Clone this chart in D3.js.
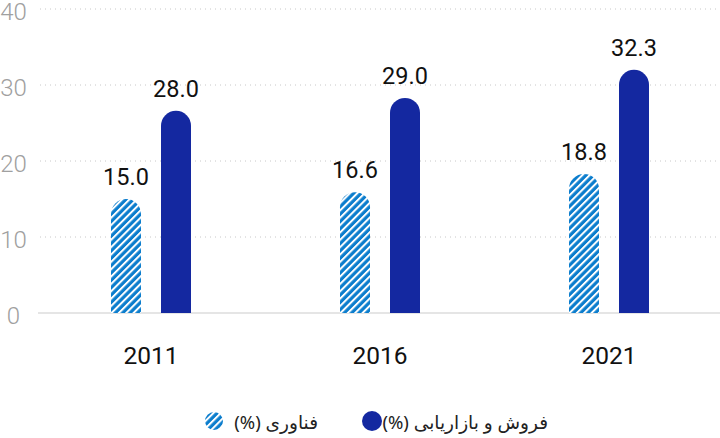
<!DOCTYPE html>
<html>
<head>
<meta charset="utf-8">
<script src="https://cdn.jsdelivr.net/npm/d3@7"></script>
<style>
  body { margin: 0; background: #fff; }
  svg { display: block; font-family: Roboto, "Noto Sans", sans-serif; }
</style>
</head>
<body>
<svg id="chart" width="720" height="438"></svg>
<script>
// data
const years = ["2011", "2016", "2021"];
const seriesNames = ["فناوری (%)", "فروش و بازاریابی (%)"];
// bar heights as drawn (the printed labels do not quite match them)
const techBars = [15.0, 15.9, 18.3];
const salesBars = [26.6, 28.3, 32.0];
const techLabels = ["15.0", "16.6", "18.8"];
const salesLabels = ["28.0", "29.0", "32.3"];
const yTicks = [0, 10, 20, 30, 40];

const techColor = "#0b7dcd";
const salesColor = "#1428a0";

const width = 720, height = 438;
const margin = { top: 9, right: 0, bottom: 125, left: 38 };
const svg = d3.select("#chart");

// stripes for the first series
const defs = svg.append("defs");
const pat = defs.append("pattern")
  .attr("id", "stripes")
  .attr("patternUnits", "userSpaceOnUse")
  .attr("width", 5.2)
  .attr("height", 5.2)
  .attr("patternTransform", "rotate(45)");
pat.append("rect").attr("width", 5.2).attr("height", 5.2).attr("fill", techColor);
pat.append("rect").attr("x", 0).attr("width", 2).attr("height", 5.2).attr("fill", "#fff");

const y = d3.scaleLinear().domain([0, 40]).range([height - margin.bottom, margin.top]);

const x0 = d3.scaleBand()
  .domain(years)
  .range([36.5, 723.5])
  .padding(0);

const x1 = d3.scalePoint()
  .domain(seriesNames)
  .range([-25, 25]);

const barW = 30;

// grid
svg.append("g")
  .selectAll("line")
  .data(yTicks.filter(d => d > 0))
  .join("line")
  .attr("x1", 40)
  .attr("x2", width)
  .attr("y1", d => y(d))
  .attr("y2", d => y(d))
  .attr("stroke", "#c8c8c8")
  .attr("stroke-width", 1)
  .attr("stroke-dasharray", "1,4");

svg.append("line")
  .attr("x1", margin.left)
  .attr("x2", width)
  .attr("y1", y(0))
  .attr("y2", y(0))
  .attr("stroke", "#dcdcdc")
  .attr("stroke-width", 1.5);

// y tick labels
svg.append("g")
  .selectAll("text")
  .data(yTicks)
  .join("text")
  .attr("x", 13.5)
  .attr("y", d => y(d) + 3)
  .attr("text-anchor", "middle")
  .attr("dominant-baseline", "central")
  .attr("fill", "#a0a0a0")
  .attr("font-weight", 300)
  .attr("font-size", 24)
  .text(d => d);

function barPath(cx, v) {
  const r = barW / 2;
  const xl = cx - r, xr = cx + r;
  const top = y(v), base = y(0);
  return `M${xl},${base}L${xl},${top + r}A${r},${r} 0 0 1 ${xr},${top + r}L${xr},${base}Z`;
}

const rows = years.map((yr, i) => ({
  year: yr,
  bars: [
    { name: seriesNames[0], v: techBars[i], label: techLabels[i], fill: "url(#stripes)" },
    { name: seriesNames[1], v: salesBars[i], label: salesLabels[i], fill: salesColor }
  ]
}));

const groups = svg.append("g")
  .selectAll("g")
  .data(rows)
  .join("g")
  .attr("transform", d => `translate(${x0(d.year) + x0.bandwidth() / 2},0)`);

groups.selectAll("path")
  .data(d => d.bars)
  .join("path")
  .attr("d", d => barPath(x1(d.name), d.v))
  .attr("fill", d => d.fill);

groups.selectAll("text.val")
  .data(d => d.bars)
  .join("text")
  .attr("class", "val")
  .attr("x", d => x1(d.name))
  .attr("y", d => y(d.v) - 14)
  .attr("text-anchor", "middle")
  .attr("font-size", 23.5)
  .attr("fill", "#111")
  .text(d => d.label);

groups.append("text")
  .attr("y", 364)
  .attr("text-anchor", "middle")
  .attr("font-size", 24.5)
  .attr("fill", "#111")
  .text(d => d.year);

// legend
const legend = [
  { name: seriesNames[0], fill: "url(#stripes)", cx: 214, r: 9, tx: 318 },
  { name: seriesNames[1], fill: salesColor, cx: 372, r: 10, tx: 548 }
];
const lg = svg.append("g").selectAll("g").data(legend).join("g");
lg.append("circle")
  .attr("cx", d => d.cx)
  .attr("cy", 421)
  .attr("r", d => d.r)
  .attr("fill", d => d.fill);
lg.append("text")
  .attr("x", d => d.tx)
  .attr("y", 421)
  .attr("direction", "rtl")
  .attr("text-anchor", "start")
  .attr("dominant-baseline", "central")
  .attr("font-family", "'Noto Sans', 'DejaVu Sans', sans-serif")
  .attr("font-size", 18.5)
  .attr("fill", "#222")
  .text(d => d.name);
</script>
</body>
</html>
